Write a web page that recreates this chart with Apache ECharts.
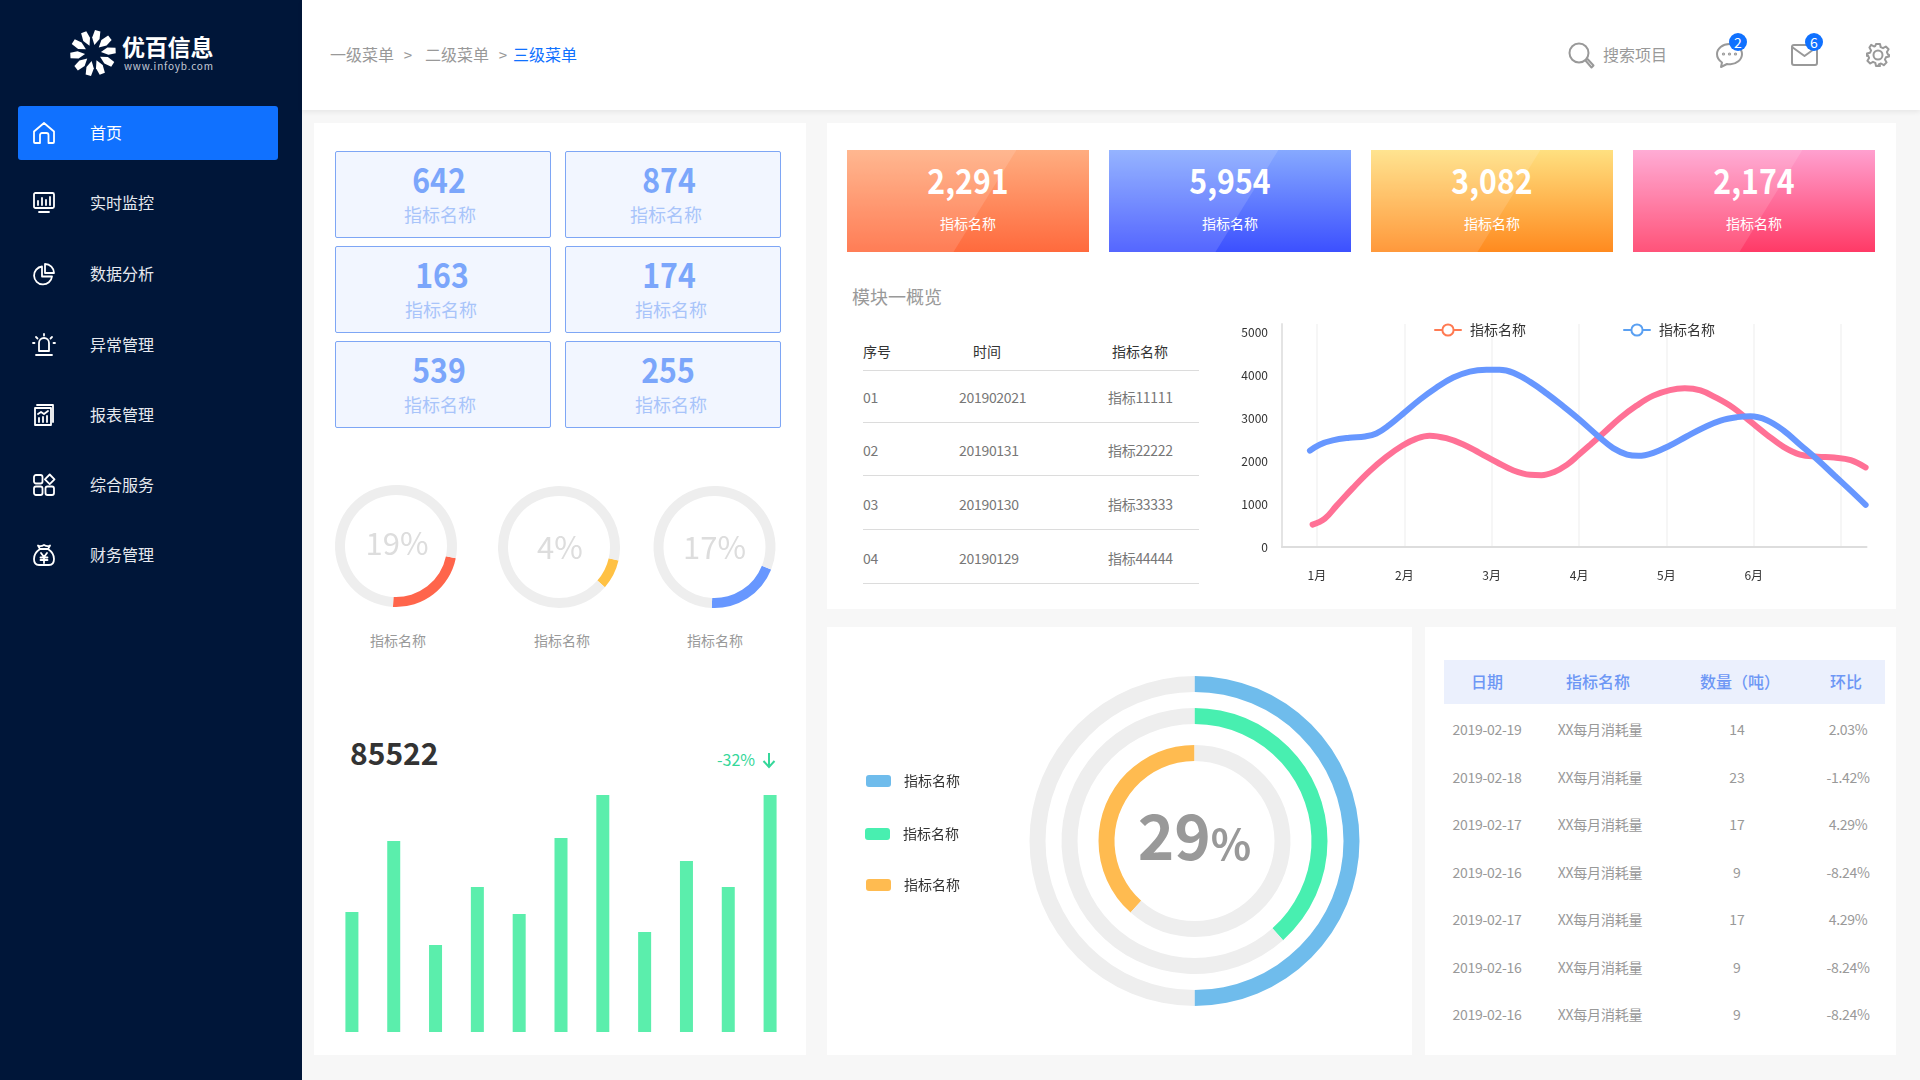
<!DOCTYPE html>
<html>
<head>
<meta charset="utf-8">
<title>优百信息</title>
<style>
html,body{margin:0;padding:0;width:1920px;height:1080px;overflow:hidden;background:#f7f7f7;font-family:"Noto Sans CJK SC","Noto Sans",sans-serif;}
.box{position:absolute;box-sizing:border-box;}
.t{position:absolute;white-space:nowrap;line-height:1;}
.c{transform:translate(-50%,-50%);}
.l{transform:translateY(-50%);}
.panel{background:#fff;}
.kpi{background:#f2f6ff;border:1px solid #7ea6f5;border-radius:2px;}
.grad{overflow:hidden;}
.grad i{position:absolute;left:0;top:0;width:100%;height:100%;background:rgba(255,255,255,.13);clip-path:polygon(0 0,70% 0,44% 100%,0 100%);}
svg{position:absolute;overflow:visible;}
.ic{fill:none;stroke:#fff;stroke-width:1.8;stroke-linejoin:round;stroke-linecap:round;}
.ig{fill:none;stroke:#999;stroke-width:2;stroke-linejoin:round;stroke-linecap:round;}
.chart{position:absolute;}
</style>
</head>
<body>
<div id="page"></div>
<div id="ringChart" class="chart" style="left:314px;top:460px;width:492px;height:170px;"></div>
<div id="barChart" class="chart" style="left:314px;top:780px;width:492px;height:270px;"></div>
<div id="lineChart" class="chart" style="left:1240px;top:315px;width:640px;height:275px;"></div>
<div id="bigRing" class="chart" style="left:827px;top:627px;width:585px;height:428px;"></div>
<script src="https://cdn.jsdelivr.net/npm/echarts@6/dist/echarts.min.js"></script>
<script>
// 菜单、面包屑
var menuNames = ["首页", "实时监控", "数据分析", "异常管理", "报表管理", "综合服务", "财务管理"];
var crumbNames = ["一级菜单", "二级菜单", "三级菜单"];

// 指标卡
var kpiValues = ["642", "874", "163", "174", "539", "255"];
var kpiLabel = "指标名称";
var gradValues = ["2,291", "5,954", "3,082", "2,174"];

// 小圆环：文字与弧长（弧长按图上量取）
var ringLabels = ["19%", "4%", "17%"];
var ringArcs = [22.6, 7.9, 19.7];
var ringStartAngles = [-11.5, -12.8, -21.7];

// 柱状图
var barCategories = ["1", "2", "3", "4", "5", "6", "7", "8", "9", "10", "11"];
var barValues = [120, 191, 87, 145, 118, 194, 237, 100, 171, 145, 237];
var barTotal = "85522";
var barChange = "-32%";

// 折线图
var monthLabels = ["1月", "2月", "3月", "4月", "5月", "6月"];
var monthLabelTicks = [1, 2, 3, 4, 5, 6];
var monthGridTicks = [1, 2, 3, 4, 5, 6, 7];
var yTickValues = [0, 1000, 2000, 3000, 4000, 5000];
var pinkMonths = [0.95, 1.09, 1.22, 1.41, 1.6, 1.79, 1.98, 2.14, 2.29, 2.48, 2.67, 2.86, 3.06, 3.25, 3.44, 3.57, 3.71, 3.86, 4.0, 4.13, 4.28, 4.47, 4.66, 4.85, 5.04, 5.21, 5.39, 5.58, 5.77, 5.96, 6.15, 6.34, 6.53, 6.73, 6.92, 7.11, 7.28];
var pinkValues = [520, 660, 950, 1370, 1760, 2090, 2360, 2520, 2590, 2530, 2390, 2190, 1970, 1780, 1680, 1670, 1740, 1910, 2150, 2380, 2650, 3000, 3290, 3520, 3650, 3690, 3640, 3460, 3230, 2920, 2610, 2330, 2150, 2100, 2080, 2020, 1850];
var blueMonths = [0.92, 1.03, 1.18, 1.37, 1.55, 1.68, 1.83, 1.98, 2.18, 2.37, 2.56, 2.75, 2.94, 3.09, 3.25, 3.44, 3.63, 3.82, 4.0, 4.24, 4.39, 4.55, 4.68, 4.85, 5.04, 5.23, 5.43, 5.62, 5.81, 5.96, 6.15, 6.34, 6.53, 6.73, 6.92, 7.11, 7.28];
var blueValues = [2240, 2380, 2480, 2540, 2570, 2640, 2840, 3090, 3430, 3710, 3940, 4080, 4120, 4120, 4050, 3840, 3570, 3270, 2970, 2540, 2300, 2150, 2120, 2190, 2360, 2570, 2780, 2940, 3020, 3040, 2950, 2710, 2380, 2030, 1670, 1310, 980];

// 模块一概览表格
var overviewHead = ["序号", "时间", "指标名称"];
var overviewIds = ["01", "02", "03", "04"];
var overviewTimes = ["201902021", "20190131", "20190130", "20190129"];
var overviewNames = ["指标11111", "指标22222", "指标33333", "指标44444"];

// 大圆环
var bigRingArcs = [50, 38.4, 38.4];
var bigRingCenter = "29";

// 右下表格
var reportHead = ["日期", "指标名称", "数量（吨）", "环比"];
var reportDates = ["2019-02-19", "2019-02-18", "2019-02-17", "2019-02-16", "2019-02-17", "2019-02-16", "2019-02-16"];
var reportName = "XX每月消耗量";
var reportCounts = ["14", "23", "17", "9", "17", "9", "9"];
var reportRates = ["2.03%", "-1.42%", "4.29%", "-8.24%", "4.29%", "-8.24%", "-8.24%"];

var FONT = '"Noto Sans CJK SC","Noto Sans",sans-serif';
var html = "";

function box(x, y, w, h, cls, style, inner) {
	html += "<div class='box " + cls + "' style='left:" + x + "px;top:" + y + "px;width:" + w + "px;height:" + h + "px;" + (style || "") + "'>" + (inner || "") + "</div>";
}
// align: c 居中 l 左对齐
function text(str, x, y, size, color, align, extra) {
	html += "<div class='t " + align + "' style='left:" + x + "px;top:" + (y - 1.2) + "px;font-size:" + size + "px;color:" + color + ";" + (extra || "") + "'>" + str + "</div>";
}
function icon(x, y, w, h, view, cls, inner) {
	html += "<svg class='" + cls + "' style='left:" + x + "px;top:" + y + "px' width='" + w + "' height='" + h + "' viewBox='" + view + "'>" + inner + "</svg>";
}

// 整体框架
box(0, 0, 302, 1080, "", "background:#001639;");
box(302, 0, 1618, 110, "", "background:#fff;box-shadow:0 2px 5px rgba(0,0,0,.07);");
box(314, 123, 492, 932, "panel");
box(827, 123, 1069, 486, "panel");
box(827, 627, 585, 428, "panel");
box(1425, 627, 471, 428, "panel");

// logo
var petals = "";
for (var p = 0; p < 10; p++) {
	petals += "<path transform='rotate(" + (p * 36 + 10) + " 24 24)' d='M24 16 L20.500 9 L22 1 L27.500 1.500 L28 9 Z' fill='#fff'/>";
}
icon(69, 29, 48, 48, "0 0 48 48", "", petals);
text("优百信息", 122, 47, 23, "#fff", "l", "font-weight:700;letter-spacing:-0.2px;");
text("www.infoyb.com", 124, 67, 10, "#c5cbd6", "l", "letter-spacing:.8px;");

// 左侧菜单
box(18, 106, 260, 54, "", "background:#1071ff;border-radius:3px;");
var menuY = [133, 203, 274, 345, 415, 485, 555];
var menuIcons = [
	"<path d='M1 20V9.500L11 1l10 8.500V20a1 1 0 0 1-1 1h-4.500V13a2 2 0 0 0-2-2H9a2 2 0 0 0-2 2v8H2a1 1 0 0 1-1-1z'/>",
	"<rect x='1' y='1' width='20' height='15' rx='1.500'/><path d='M5 13V9M9 13V6M13 13V8M17 13V5M6 20h10'/>",
	"<path d='M9 3.500A9 9 0 1 0 19 13.500H9z'/><path d='M12 1a9 9 0 0 1 9 9h-9z'/>",
	"<path d='M6 17V9a5 5 0 0 1 10 0v8zM3 21h16M11 0v1.500M3 3l1.500 1.500M19 3l-1.500 1.500M0 9h1.500M20.500 9H22'/>",
	"<rect x='2' y='4' width='16' height='17'/><path d='M4 1h16v17M5 10l3-2 3 2 4-3M6 18v-4M10 18v-5M14 18v-6'/>",
	"<rect x='1' y='1' width='8.500' height='8.500' rx='2'/><rect x='1' y='12.500' width='8.500' height='8.500' rx='2'/><rect x='12.500' y='12.500' width='8.500' height='8.500' rx='2'/><path d='M16.700 0.500l4.800 4.800-4.800 4.800-4.800-4.800z'/>",
	"<path d='M7 5L5 1.500c2 1 3.500 1 6-.5 2.500 1.500 4 1.500 6 .5L15 5M7 5h8M7 5c-3 2-6 6-6 10 0 4 2 6 5 6h10c3 0 5-2 5-6 0-4-3-8-6-10M8 9l3 4 3-4M7.500 13.500h7M7.500 16h7M11 13v6'/>"
];
for (var i = 0; i < menuNames.length; i++) {
	icon(33, menuY[i] - 11, 22, 22, "0 0 22 22", "ic", menuIcons[i]);
	text(menuNames[i], 90, menuY[i], 16, i == 0 ? "#fff" : "#e6e9ef", "l");
}

// 面包屑
text(crumbNames[0], 330, 55, 16, "#999", "l");
text("&gt;", 408, 55, 15, "#999", "c");
text(crumbNames[1], 425, 55, 16, "#999", "l");
text("&gt;", 503, 55, 15, "#999", "c");
text(crumbNames[2], 513, 55, 16, "#1071ff", "l");

// 顶部右侧图标
icon(1568, 42, 27, 27, "0 0 27 27", "ig", "<circle cx='11' cy='11' r='9.500'/><path d='M17.500 18.500l2-1.500 6 6.500-2 2z'/>");
text("搜索项目", 1603, 55, 16, "#999", "l");
icon(1716, 43, 27, 25, "0 0 27 25", "ig", "<path d='M13.500 1C6.500 1 1 5.500 1 11c0 3.500 2 6.500 5 8.500l-1 4.500 6-3c1 .2 1.600.2 2.500.2C20.500 21.700 26 16.500 26 11S20.500 1 13.500 1z'/><circle cx='7.500' cy='11' r='.6'/><circle cx='13.500' cy='11' r='.6'/><circle cx='19.500' cy='11' r='.6'/>");
box(1729, 33, 18, 18, "", "background:#1071ff;border-radius:50%;");
text("2", 1738, 43, 14, "#fff", "c");
icon(1791, 44, 27, 22, "0 0 27 22", "ig", "<rect x='1' y='1' width='25' height='20' rx='2'/><path d='M1 3l12.500 9L26 3'/>");
box(1805, 33, 18, 18, "", "background:#1071ff;border-radius:50%;");
text("6", 1814, 43, 14, "#fff", "c");
icon(1866, 43, 24, 24, "0 0 24 24", "ig", "<circle cx='12' cy='12' r='4.500'/><path d='M10 1h4l.7 3.200 2.300 1 2.800-1.700 2.800 2.800-1.700 2.800 1 2.300L23 12v1.500l-3.100.8-1 2.300 1.700 2.800-2.800 2.800-2.800-1.700-2.300 1L14 23h-4l-.7-3.200-2.300-1-2.800 1.700-2.800-2.800 1.700-2.800-1-2.300L1 13v-2.500l3.100-.8 1-2.300-1.700-2.800L5.200 1.800 8 3.500l1.300-.5z'/>");

// 六个指标卡
var kpiX = [335, 565, 335, 565, 335, 565];
var kpiY = [151, 151, 246, 246, 341, 341];
var kpiNumX = [439, 669, 442, 669, 439, 668];
var kpiLabelX = [440, 666, 441, 671, 440, 671];
var narrowNum = "font-weight:700;transform:translate(-50%,-50%) scaleX(.89);";
for (var k = 0; k < kpiValues.length; k++) {
	box(kpiX[k], kpiY[k], 216, 87, "kpi");
	text(kpiValues[k], kpiNumX[k], kpiY[k] + 29, 34, "#7ba6fb", "c", narrowNum);
	text(kpiLabel, kpiLabelX[k], kpiY[k] + 64, 18, "#a8c4fa", "c");
}

// 小圆环下方文字
var ringTextX = [398, 562, 715];
for (var r = 0; r < ringTextX.length; r++) {
	text(kpiLabel, ringTextX[r], 641, 14, "#999", "c");
}

// 85522
text(barTotal, 350, 753, 30, "#333", "l", "font-weight:700;");
text(barChange, 717, 760, 16, "#35d79a", "l");
icon(762, 752, 14, 16, "0 0 14 16", "", "<path d='M7 1v14M1.500 9L7 15l5.500-6' fill='none' stroke='#35d79a' stroke-width='2'/>");

// 渐变卡
var gradX = [847, 1109, 1371, 1633];
var gradBg = ["#ffad80,#ff6a3d", "#86a9ff,#3c50ff", "#ffe080,#ff8a1f", "#ffa0cf,#ff3a66"];
for (var g = 0; g < gradValues.length; g++) {
	box(gradX[g], 150, 242, 102, "grad", "background:linear-gradient(180deg," + gradBg[g] + ");", "<i></i>");
	text(gradValues[g], gradX[g] + 121, 181, 34, "#fff", "c", narrowNum);
	text(kpiLabel, gradX[g] + 121, 224, 14, "#fff", "c");
}

// 模块一概览
text("模块一概览", 852, 297, 18, "#999", "l");
text(overviewHead[0], 877, 352, 14, "#333", "c");
text(overviewHead[1], 987, 352, 14, "#333", "c");
text(overviewHead[2], 1140, 352, 14, "#333", "c");
var lineY = [370, 422, 475, 529, 583];
var rowY = [398, 451, 505, 559];
for (var n = 0; n < lineY.length; n++) {
	box(863, lineY[n], 336, 1, "", "background:#dcdcdc;");
}
for (var o = 0; o < overviewIds.length; o++) {
	text(overviewIds[o], 863, rowY[o], 14, "#777", "l", "letter-spacing:-.3px;");
	text(overviewTimes[o], 959, rowY[o], 14, "#777", "l", "letter-spacing:-.3px;");
	text(overviewNames[o], 1108, rowY[o], 14, "#777", "l", "letter-spacing:-.3px;");
}

// 右下表格
box(1444, 660, 441, 44, "", "background:#ebf0fd;");
var reportHeadX = [1487, 1598, 1740, 1846];
for (var h = 0; h < reportHead.length; h++) {
	text(reportHead[h], reportHeadX[h], 682, 16, "#6d97f5", "c", "font-weight:500;");
}
var reportY = [730, 778, 825, 873, 920, 968, 1015];
for (var d = 0; d < reportDates.length; d++) {
	text(reportDates[d], 1487, reportY[d], 14, "#999", "c", "letter-spacing:-.3px;");
	text(reportName, 1600, reportY[d], 14, "#999", "c", "letter-spacing:-.2px;");
	text(reportCounts[d], 1737, reportY[d], 14, "#999", "c");
	text(reportRates[d], 1848, reportY[d], 14, "#999", "c", "letter-spacing:-.3px;");
}

document.getElementById("page").innerHTML = html;

// 三个小圆环
var ringColors = ["#ff654b", "#ffc144", "#6797ff"];
var ringCenters = [[82, 86], [245, 87], [400.5, 87]];
var ringTextOffsets = [[1, -3], [1, 0], [0, 0]];
var ringSeries = [];
ringLabels.forEach(function(item, index) {
	ringSeries.push({
		type: "pie",
		silent: true,
		radius: [51, 61],
		center: ringCenters[index],
		startAngle: ringStartAngles[index],
		clockwise: true,
		labelLine: { show: false },
		data: [{
			value: ringArcs[index],
			itemStyle: { color: ringColors[index] },
			label: { show: true, position: "center", formatter: item, fontSize: 31, color: "#dddddd", fontFamily: FONT, offset: ringTextOffsets[index] }
		}, {
			value: 100 - ringArcs[index],
			itemStyle: { color: "#eeeeee" },
			label: { show: false }
		}]
	});
});
echarts.init(document.getElementById("ringChart")).setOption({ animation: false, series: ringSeries });

// 柱状图
echarts.init(document.getElementById("barChart")).setOption({
	animation: false,
	grid: { left: 17, top: 15, width: 460, height: 237 },
	xAxis: { type: "category", data: barCategories, show: false },
	yAxis: { type: "value", min: 0, max: 237, show: false },
	series: [{ type: "bar", silent: true, barWidth: 13, data: barValues, itemStyle: { color: "#5beeac" } }]
});

// 折线图
function zipPoints(xs, ys) {
	var out = [];
	for (var i = 0; i < xs.length; i++) {
		out.push([xs[i], ys[i]]);
	}
	return out;
}
function lineLegend(left, color) {
	return {
		left: left,
		top: 3,
		itemWidth: 26,
		itemHeight: 14,
		itemGap: 0,
		itemStyle: { color: color },
		lineStyle: { color: color, width: 2 },
		textStyle: { color: "#333", fontSize: 14, fontFamily: FONT, padding: [0, 0, 0, 4] },
		selectedMode: false,
		data: [kpiLabel]
	};
}
echarts.init(document.getElementById("lineChart")).setOption({
	animation: false,
	backgroundColor: "#fff",
	legend: [lineLegend(189, "#ff7a52"), lineLegend(378, "#5aa0f2")],
	grid: { left: 42, top: 9, width: 584.5, height: 223, outerBoundsMode: "none" },
	xAxis: {
		type: "value",
		min: 0.6,
		max: 7.29,
		axisLine: { show: true, lineStyle: { color: "#dddddd", width: 2 } },
		axisTick: { show: false, customValues: monthGridTicks },
		splitLine: { show: true, lineStyle: { color: "#f3f3f3", width: 1.5 } },
		axisLabel: {
			customValues: monthLabelTicks,
			margin: 22,
			fontSize: 12,
			color: "#333",
			fontFamily: FONT,
			formatter: function(v) { return monthLabels[v - 1]; }
		}
	},
	yAxis: {
		type: "value",
		min: 0,
		max: 5186,
		axisLine: { show: true, lineStyle: { color: "#e4e4e4", width: 2 } },
		axisTick: { show: false },
		splitLine: { show: false },
		axisLabel: {
			customValues: yTickValues,
			margin: 14,
			fontSize: 12,
			color: "#333",
			fontFamily: FONT,
			formatter: function(v) { return String(v); }
		}
	},
	series: [{
		name: kpiLabel,
		type: "line",
		smooth: 0.4,
		symbol: "emptyCircle",
		showSymbol: false,
		silent: true,
		lineStyle: { color: "#ff7196", width: 6, cap: "round" },
		itemStyle: { color: "#ff7196" },
		data: zipPoints(pinkMonths, pinkValues)
	}, {
		name: kpiLabel,
		type: "line",
		smooth: 0.4,
		symbol: "emptyCircle",
		showSymbol: false,
		silent: true,
		lineStyle: { color: "#6797ff", width: 6, cap: "round" },
		itemStyle: { color: "#6797ff" },
		data: zipPoints(blueMonths, blueValues)
	}]
});

// 大圆环
var bigColors = ["#6fbcec", "#48efb0", "#ffbb50"];
var bigRadius = [[149, 165], [117, 133], [80, 96]];
var bigLegendPos = [[34, 142], [33, 195], [34, 246]];
var bigSeries = [];
var bigLegends = [];
bigRingArcs.forEach(function(item, index) {
	var inner = index == 2;
	bigSeries.push({
		type: "pie",
		silent: true,
		radius: bigRadius[index],
		center: [367.5, 214],
		startAngle: 90,
		clockwise: !inner,
		labelLine: { show: false },
		data: [{
			name: kpiLabel,
			value: item,
			itemStyle: { color: bigColors[index] },
			label: inner ? {
				show: true,
				position: "center",
				formatter: "{a|" + bigRingCenter + "}{b|%}",
				padding: [0, 0, 10, 0],
				rich: {
					a: { fontSize: 62, fontWeight: 700, color: "#999999", fontFamily: FONT },
					b: { fontSize: 42, fontWeight: 700, color: "#999999", fontFamily: FONT, padding: [16, 0, 0, 0] }
				}
			} : { show: false }
		}, {
			name: "",
			value: 100 - item,
			itemStyle: { color: "#eeeeee" },
			label: { show: false }
		}]
	});
	bigLegends.push({
		left: bigLegendPos[index][0],
		top: bigLegendPos[index][1],
		icon: "roundRect",
		itemWidth: 25,
		itemHeight: 12,
		itemGap: 0,
		selectedMode: false,
		textStyle: { color: "#333", fontSize: 14, fontFamily: FONT, padding: [0, 0, 0, 8] },
		data: [{ name: kpiLabel, itemStyle: { color: bigColors[index] } }]
	});
});
echarts.init(document.getElementById("bigRing")).setOption({ animation: false, legend: bigLegends, series: bigSeries });
</script>
</body>
</html>
